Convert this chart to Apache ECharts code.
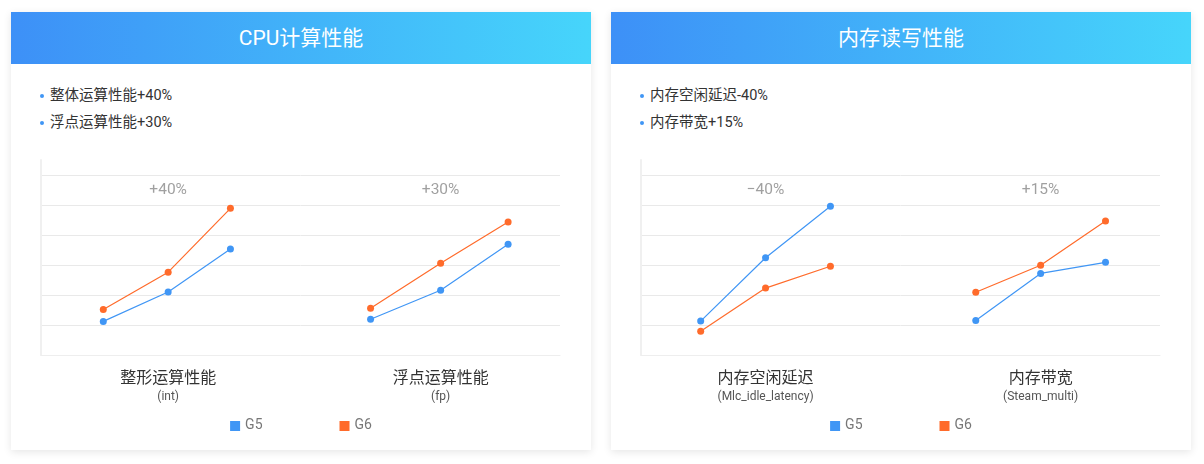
<!DOCTYPE html>
<html>
<head>
<meta charset="utf-8">
<script src="https://cdn.jsdelivr.net/npm/echarts@6/dist/echarts.min.js"></script>
<style>
  body { margin: 0; background: #fff; font-family: Roboto, 'Noto Sans CJK SC', sans-serif; }
  .card { position: absolute; top: 12px; width: 580px; height: 438px; background: #fff; box-shadow: 0 2px 8px rgba(0, 0, 0, 0.1); }
  .card .head { height: 52px; line-height: 52px; text-align: center; color: #fff; font-size: 21px; background: linear-gradient(to right, #3d90f7, #46d5fb); }
  .card ul { list-style: none; margin: 0; padding: 0; position: absolute; left: 29px; top: 72px; }
  .card li { font-size: 14.5px; color: #333; height: 27px; line-height: 24px; position: relative; padding-left: 10px; }
  .card li:before { content: ''; position: absolute; left: 0; top: 10px; width: 4px; height: 4px; border-radius: 2px; background: #4096f5; }
  .card .chart { position: absolute; left: 0; top: 138px; width: 580px; height: 300px; }
</style>
</head>
<body>
<div class="card" style="left:11px">
  <div class="head">CPU计算性能</div>
  <ul id="cpuNotes"></ul>
  <div class="chart" id="cpuChart"></div>
</div>
<div class="card" style="left:611px">
  <div class="head">内存读写性能</div>
  <ul id="memNotes"></ul>
  <div class="chart" id="memChart"></div>
</div>
<script>
// CPU card
const cpuNotes = ['整体运算性能+40%', '浮点运算性能+30%']
const cpuGroups = ['整形运算性能', '浮点运算性能']
const cpuGroupSub = ['(int)', '(fp)']
const cpuGain = ['+40%', '+30%']
const cpuSteps = [[12, 24.5, 36.5], [63.5, 77, 90]]
const cpuG5 = [[11.2, 21, 35.3], [11.9, 21.6, 36.9]]
const cpuG6 = [[15.2, 27.6, 48.9], [15.6, 30.6, 44.3]]

// memory card
const memNotes = ['内存空闲延迟-40%', '内存带宽+15%']
const memGroups = ['内存空闲延迟', '内存带宽']
const memGroupSub = ['(Mlc_idle_latency)', '(Steam_multi)']
const memGain = ['−40%', '+15%']
const memSteps = [[11.5, 24, 36.5], [64.5, 77, 89.5]]
const memG5 = [[11.3, 32.4, 49.6], [11.5, 27.2, 30.9]]
const memG6 = [[7.9, 22.3, 29.6], [20.9, 29.9, 44.7]]

const seriesNames = ['G5', 'G6']
const colors = ['#4096f5', '#ff6b2b']
const gainLevel = 55

function fillNotes(id, notes) {
    const ul = document.getElementById(id)
    notes.forEach(function (t) {
        const li = document.createElement('li')
        li.textContent = t
        ul.appendChild(li)
    })
}

function lineSeries(name, color, steps, values) {
    return {
        type: 'line',
        name: name,
        data: values.map(function (v, i) { return [steps[i], v] }),
        symbol: 'circle',
        symbolSize: 7,
        showSymbol: true,
        lineStyle: { width: 1.2, color: color },
        itemStyle: { color: color },
        z: name === 'G6' ? 3 : 4,
    }
}

function buildChart(id, groups, subs, gains, steps, g5, g6) {
    const chart = echarts.init(document.getElementById(id))
    const labelAt = {}
    steps.forEach(function (s, i) { labelAt[s[1]] = i })

    const series = []
    steps.forEach(function (s, i) {
        series.push(lineSeries(seriesNames[0], colors[0], s, g5[i]))
        series.push(lineSeries(seriesNames[1], colors[1], s, g6[i]))
    })
    series.push({
        type: 'scatter',
        symbolSize: 0,
        silent: true,
        data: gains.map(function (g, i) { return { value: [steps[i][1], gainLevel], name: g } }),
        label: { show: true, position: 'inside', formatter: '{b}', color: '#888', fontSize: 15.5 },
    })

    chart.setOption({
        animation: false,
        textStyle: { fontFamily: "Roboto, 'Noto Sans CJK SC', sans-serif" },
        color: colors,
        legend: {
            data: seriesNames,
            top: 264,
            left: 'center',
            icon: 'rect',
            itemWidth: 10,
            itemHeight: 10,
            itemGap: 77,
            itemTextGap: 4,
            textStyle: { color: '#777', fontSize: 14 },
        },
        grid: { left: 30, right: 31, top: 10, bottom: 95 },
        xAxis: {
            type: 'value',
            min: 0,
            max: 100,
            interval: 0.5,
            splitLine: { show: false },
            axisTick: { show: false },
            axisLine: { lineStyle: { color: '#eee' } },
            axisLabel: {
                margin: 13,
                formatter: function (v) {
                    const i = labelAt[v]
                    if (i === undefined) return ''
                    return '{a|' + groups[i] + '}\n{b|' + subs[i] + '}'
                },
                rich: {
                    a: { fontSize: 16, color: '#333', lineHeight: 21 },
                    b: { fontSize: 12, color: '#555', lineHeight: 16 },
                },
            },
        },
        yAxis: {
            type: 'value',
            min: 0,
            max: 65,
            interval: 10,
            axisLabel: { show: false },
            axisTick: { show: false },
            axisLine: { show: true, lineStyle: { color: '#f0f0f0', width: 2 } },
            splitLine: { showMaxLine: false, lineStyle: { color: '#e9e9e9' } },
        },
        series: series,
    })
    return chart
}

fillNotes('cpuNotes', cpuNotes)
fillNotes('memNotes', memNotes)
buildChart('cpuChart', cpuGroups, cpuGroupSub, cpuGain, cpuSteps, cpuG5, cpuG6)
buildChart('memChart', memGroups, memGroupSub, memGain, memSteps, memG5, memG6)
</script>
</body>
</html>
